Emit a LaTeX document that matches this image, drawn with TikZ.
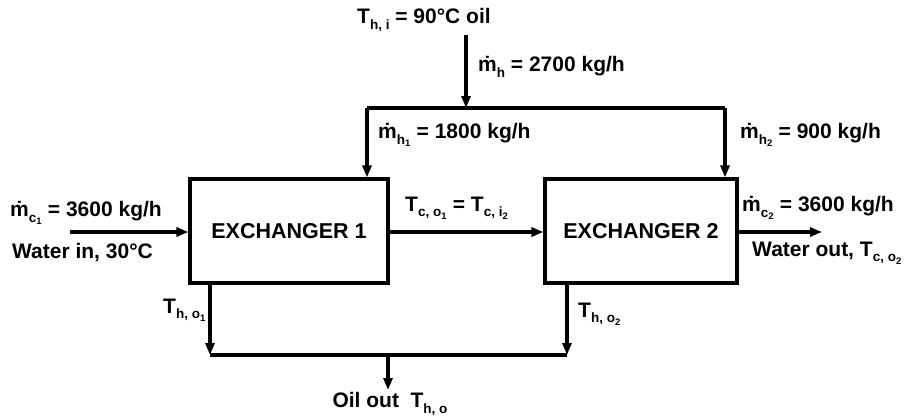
\documentclass[tikz,border=0pt]{standalone}
\usepackage{fontspec}
\setmainfont{Liberation Sans}
\usetikzlibrary{arrows.meta}
\newcommand\dn[1]{\raisebox{-0.5ex}{\fontsize{13.5}{13.5}\selectfont #1}}
\newcommand\md{\.{m}}
\begin{document}
\begin{tikzpicture}[x=1pt,y=-1pt,
  lbl/.style={font=\fontsize{21}{22}\bfseries, inner sep=0pt, anchor=west},
  exbox/.style={draw, line width=3.1pt, minimum width=198pt, minimum height=104pt, font=\fontsize{21.5}{22}\bfseries},
  flow/.style={line width=3.1pt, -{Triangle[length=12pt,width=9pt]}},
  pipe/.style={line width=3.1pt}]
\useasboundingbox (0,0) rectangle (923,416);
\node[exbox] (ex1) at (289,231) {EXCHANGER 1};
\node[exbox, minimum width=192pt] (ex2) at (641,231) {EXCHANGER 2};
% top hot input
\coordinate (hin) at (466,35);
\coordinate (hsplit) at (466,108);
\coordinate (hl) at (367,108);
\coordinate (hr) at (725,108);
\draw[flow] (hin) -- (hsplit);
\draw[pipe] (hl) -- (hr);
\draw[flow] (hl) -- (hl |- ex1.north);
\draw[flow] (hr) -- (hr |- ex2.north);
% cold stream
\coordinate (cin) at (70,232);
\coordinate (cout) at (822,232);
\draw[flow] (cin) -- (ex1.west |- cin);
\draw[flow] (ex1.east |- cin) -- (ex2.west |- cin);
\draw[flow] (ex2.east |- cin) -- (cout);
% hot outputs
\coordinate (o1) at (210,355);
\coordinate (o2) at (567,355);
\coordinate (om) at (388,355);
\coordinate (oend) at (388,390);
\draw[flow] (o1 |- ex1.south) -- (o1);
\draw[flow] (o2 |- ex2.south) -- (o2);
\draw[pipe] (o1) -- (o2);
\draw[flow] (om) -- (oend);
% labels
\node[lbl] (l1) at (357,20) {T\dn{h, i} = 90°C oil};
\node[lbl] (l2) at (478,67) {\md\dn{h} = 2700 kg/h};
\node[lbl] (l3) at (378,135) {\md\dn{h\textsubscript{1}} = 1800 kg/h};
\node[lbl] (l4) at (740,135) {\md\dn{h\textsubscript{2}} = 900 kg/h};
\node[lbl] (l5) at (10,213) {\md\dn{c\textsubscript{1}} = 3600 kg/h};
\node[lbl] (l6) at (12,253) {Water in, 30°C};
\node[lbl] (l7) at (405,208) {T\dn{c, o\textsubscript{1}} = T\dn{c, i\textsubscript{2}}};
\node[lbl] (l8) at (742,208) {\md\dn{c\textsubscript{2}} = 3600 kg/h};
\node[lbl] (l9) at (752,253) {Water out, T\dn{c, o\textsubscript{2}}};
\node[lbl, anchor=east] (l10) at (206,310) {T\dn{h, o\textsubscript{1}}};
\node[lbl] (l11) at (578,314) {T\dn{h, o\textsubscript{2}}};
\node[lbl, anchor=center] (l12) at (390,404) {Oil out\ \ T\dn{h, o}};
\end{tikzpicture}
\end{document}
